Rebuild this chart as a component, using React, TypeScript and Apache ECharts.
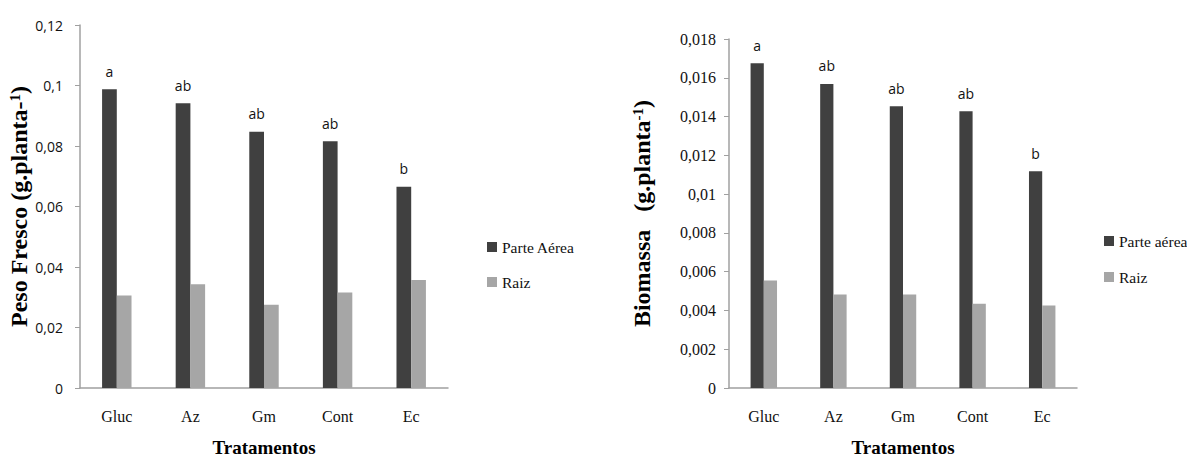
import React, { useEffect, useRef } from "react";
import * as echarts from "echarts";

// Treatments shared by both panels
const categories = ["Gluc", "Az", "Gm", "Cont", "Ec"];

// Panel 1: fresh weight (g per plant)
const pesoParteAerea = [0.0988, 0.0941, 0.0847, 0.0816, 0.0665];
const pesoRaiz = [0.0306, 0.0343, 0.0275, 0.0316, 0.0357];
const pesoLetters = ["a", "ab", "ab", "ab", "b"];

// Panel 2: biomass (g per plant)
const bioParteAerea = [0.01675, 0.01568, 0.01453, 0.01427, 0.01118];
const bioRaiz = [0.00555, 0.00482, 0.00482, 0.00434, 0.00426];
const bioLetters = ["a", "ab", "ab", "ab", "b"];

const DARK = "#404040";
const LIGHT = "#a6a6a6";
const AXIS = "#a0a0a0";
const SERIF = "Liberation Serif";
const SANS = "Open Sans";

const comma = (v: number) => String(+v.toFixed(4)).replace(".", ",");

const titleRich = {
  n: { fontFamily: SERIF, fontSize: 24, fontWeight: "bold" as const, color: "#000" },
  s: { fontFamily: SERIF, fontSize: 15, fontWeight: "bold" as const, color: "#000", verticalAlign: "top" as const, padding: [0, 0, 8, 0] },
};

export default function App() {
  const ref = useRef<HTMLDivElement>(null);

  useEffect(() => {
    if (!ref.current) return;
    const chart = echarts.init(ref.current, null, { renderer: "svg" });

    const xAxisBase = (gridIndex: number) => ({
      type: "category" as const,
      gridIndex,
      data: categories,
      axisLine: { lineStyle: { color: AXIS, width: 1.5 } },
      axisTick: { show: false },
      axisLabel: { fontFamily: SERIF, fontSize: 16, color: "#111", margin: 20 },
      name: "Tratamentos",
      nameLocation: "middle" as const,
      nameGap: 50,
      nameTextStyle: { fontFamily: SERIF, fontSize: 19, fontWeight: "bold" as const, color: "#000" },
    });

    const letterLabel = (letters: string[]) => ({
      show: true,
      position: "top" as const,
      distance: 11,
      fontFamily: SANS,
      fontSize: 14,
      color: "#111",
      formatter: (p: any) => letters[p.dataIndex],
    });

    const legendText = {
      fontFamily: SERIF,
      fontSize: 15.5,
      color: "#111",
    };

    chart.setOption({
      animation: false,
      grid: [
        { left: 80, top: 25, width: 368, height: 366 },
        { left: 729, top: 39, width: 348, height: 351 },
      ],
      xAxis: [xAxisBase(0), xAxisBase(1)],
      yAxis: [
        {
          type: "value",
          gridIndex: 0,
          min: 0,
          max: 0.12,
          interval: 0.02,
          splitLine: { show: false },
          axisLine: { show: true, lineStyle: { color: AXIS, width: 1.5 } },
          axisTick: { show: true, length: 5, lineStyle: { color: AXIS } },
          axisLabel: { fontFamily: SANS, fontSize: 14, color: "#111", margin: 17, formatter: comma },
          name: "{n|Peso Fresco (g.planta-}{s|1}{n|)}",
          nameLocation: "middle",
          nameGap: 47,
          nameTextStyle: { rich: titleRich },
        },
        {
          type: "value",
          gridIndex: 1,
          min: 0,
          max: 0.018,
          interval: 0.002,
          splitLine: { show: false },
          axisLine: { show: true, lineStyle: { color: AXIS, width: 1.5 } },
          axisTick: { show: true, length: 5, lineStyle: { color: AXIS } },
          axisLabel: { fontFamily: SERIF, fontSize: 16, color: "#111", margin: 13, formatter: comma },
          name: "{n|Biomassa   (g.planta}{s|-1}{n|)}",
          nameLocation: "middle",
          nameGap: 75,
          nameTextStyle: { rich: titleRich },
        },
      ],
      legend: [
        {
          data: ["Parte Aérea", "Raiz"],
          orient: "vertical",
          left: 482,
          top: 234,
          itemWidth: 10,
          itemHeight: 10,
          itemGap: 19,
          icon: "rect",
          textStyle: legendText,
        },
        {
          data: ["Parte aérea", "Raiz "],
          orient: "vertical",
          left: 1099,
          top: 228,
          itemWidth: 10,
          itemHeight: 10,
          itemGap: 20,
          icon: "rect",
          textStyle: legendText,
        },
      ],
      series: [
        {
          name: "Parte Aérea",
          type: "bar",
          xAxisIndex: 0,
          yAxisIndex: 0,
          data: pesoParteAerea,
          barWidth: "20%",
          barGap: "0%",
          itemStyle: { color: DARK },
          label: letterLabel(pesoLetters),
        },
        {
          name: "Raiz",
          type: "bar",
          xAxisIndex: 0,
          yAxisIndex: 0,
          data: pesoRaiz,
          barWidth: "20%",
          barGap: "0%",
          itemStyle: { color: LIGHT },
        },
        {
          name: "Parte aérea",
          type: "bar",
          xAxisIndex: 1,
          yAxisIndex: 1,
          data: bioParteAerea,
          barWidth: "19%",
          barGap: "0%",
          itemStyle: { color: DARK },
          label: letterLabel(bioLetters),
        },
        {
          name: "Raiz ",
          type: "bar",
          xAxisIndex: 1,
          yAxisIndex: 1,
          data: bioRaiz,
          barWidth: "19%",
          barGap: "0%",
          itemStyle: { color: LIGHT },
        },
      ],
    });

    return () => chart.dispose();
  }, []);

  return (
    <div
      ref={ref}
      style={{ position: "absolute", left: 0, top: 0, width: 1187, height: 462, background: "#fff" }}
    />
  );
}
